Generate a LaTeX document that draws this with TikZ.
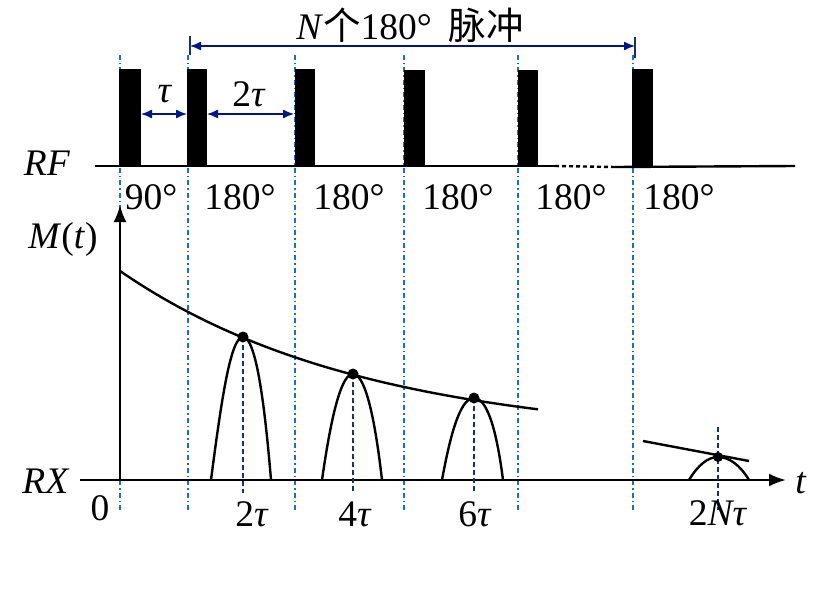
\documentclass[tikz,border=0pt]{standalone}
\usepackage{fontspec}
\setmainfont{Liberation Serif}
\newfontfamily\cjk{Noto Sans CJK SC}
\usetikzlibrary{arrows.meta}
\definecolor{guideblue}{RGB}{30,110,200}
\definecolor{echoblue}{RGB}{20,50,110}
\definecolor{dimblue}{RGB}{0,20,140}
\begin{document}
\begin{tikzpicture}[x=1pt,y=-1pt,
  lbl/.style={font=\fontsize{37.5}{40}\selectfont, inner sep=0pt},
  guide/.style={draw=guideblue, line width=1.1pt, dash pattern=on 5pt off 3pt on 1.5pt off 3pt},
  echoline/.style={draw=echoblue, line width=1.2pt, dash pattern=on 5pt off 3pt},
  dimarrow/.style={draw=dimblue, line width=1.3pt, {Latex[length=11pt,width=9pt]}-{Latex[length=11pt,width=9pt]}},
  dimbar/.style={draw=echoblue, line width=1.3pt},
  pulsebox/.style={fill=black},
  thick line/.style={line width=2.4pt},
  axisarrow/.style={line width=2.4pt, -{Latex[length=17pt,width=13pt]}},
  peakdot/.style={fill=black},
]
\useasboundingbox (0,0) rectangle (827,591);

% guide lines
\foreach \x in {120,188,295,404,518,633}
  \draw[guide] (\x,55) -- (\x,510);

% RF pulses
\fill[pulsebox] (119,69) rectangle (141,167);
\fill[pulsebox] (187,69) rectangle (207,167);
\fill[pulsebox] (295,69) rectangle (315,167);
\fill[pulsebox] (404,70) rectangle (425,167);
\fill[pulsebox] (518,70) rectangle (538,167);
\fill[pulsebox] (632,69) rectangle (653,167);

% RF baseline
\coordinate (rf0) at (95,166);
\coordinate (rf1) at (555,166);
\coordinate (rf2) at (615,167);
\coordinate (rf3) at (795,166);
\draw[thick line] (rf0) -- (rf1);
\draw[line width=2.4pt, dash pattern=on 4pt off 3pt] (rf1) -- (rf2);
\draw[thick line] (rf2) -- (rf3);

% top N-pulse arrow
\coordinate (na) at (190,46);
\coordinate (nb) at (635,46);
\draw[dimarrow] (na) -- (nb);
\draw[dimbar] (190,36) -- (190,55);
\draw[dimbar] (635,37) -- (635,58);
\node[lbl] (ntitle) at (410,25) {\textit{N}{\cjk 个}180°\hspace{0.45em}{\cjk 脉冲}};

% tau arrows
\coordinate (t1a) at (141,114);
\coordinate (t1b) at (187,114);
\coordinate (t2a) at (207,114);
\coordinate (t2b) at (294,114);
\draw[dimarrow] (t1a) -- (t1b);
\draw[dimarrow] (t2a) -- (t2b);
\node[lbl] (tau1) at (165,94) {\textit{τ}};
\node[lbl] (tau2) at (249,94) {2\textit{τ}};

% RF labels
\node[lbl] (rf) at (47,163) {\textit{RF}};
\node[lbl] (p90) at (151,197) {90°};
\node[lbl] (p180a) at (240,197) {180°};
\node[lbl] (p180b) at (349,197) {180°};
\node[lbl] (p180c) at (458,197) {180°};
\node[lbl] (p180d) at (571,197) {180°};
\node[lbl] (p180e) at (679,197) {180°};

% axes
\coordinate (o) at (120,480);
\coordinate (xs) at (80,480);
\coordinate (xe) at (786,480);
\coordinate (ye) at (120,205);
\draw[axisarrow] (xs) -- (xe);
\draw[axisarrow] (o) -- (ye);
\node[lbl] (mt) at (63,239) {\textit{M}(\textit{t})};
\node[lbl] (rx) at (46,481) {\textit{RX}};
\node[lbl] (zero) at (100,508) {0};
\node[lbl] (tt) at (801,483) {\textit{t}};

% decay envelope
\draw[thick line] plot[domain=120:538, samples=80] (\x, {440 - 169*exp(-(\x-120)/245)});
\draw[thick line] (643,441) -- (749,461);

% echoes
\coordinate (e1) at (243,337);
\coordinate (e2) at (353,374);
\coordinate (e3) at (474,398);
\coordinate (e4) at (718,457);
\draw[thick line] (211,480) .. controls (222,395) and (231,337) .. (e1) .. controls (255,337) and (264,395) .. (271,480);
\draw[thick line] (322,480) .. controls (332,410) and (342,374) .. (e2) .. controls (364,374) and (374,410) .. (382,480);
\draw[thick line] (442,480) .. controls (452,425) and (462,398) .. (e3) .. controls (486,398) and (496,425) .. (503,480);
\draw[thick line] (689,480) .. controls (698,465) and (708,457) .. (e4) .. controls (729,457) and (740,465) .. (749,480);

\draw[echoline] (e1) -- (243,493);
\draw[echoline] (e2) -- (353,493);
\draw[echoline] (e3) -- (474,493);
\draw[echoline] (718,427) -- (718,510);

\fill[peakdot] (e1) circle (5.5pt);
\fill[peakdot] (e2) circle (5.5pt);
\fill[peakdot] (e3) circle (5.5pt);
\fill[peakdot] (e4) circle (5pt);

\node[lbl] (l2) at (252,514) {2\textit{τ}};
\node[lbl] (l4) at (355,514) {4\textit{τ}};
\node[lbl] (l6) at (475,514) {6\textit{τ}};
\node[lbl] (l2n) at (718,513) {2\textit{Nτ}};
\end{tikzpicture}
\end{document}
